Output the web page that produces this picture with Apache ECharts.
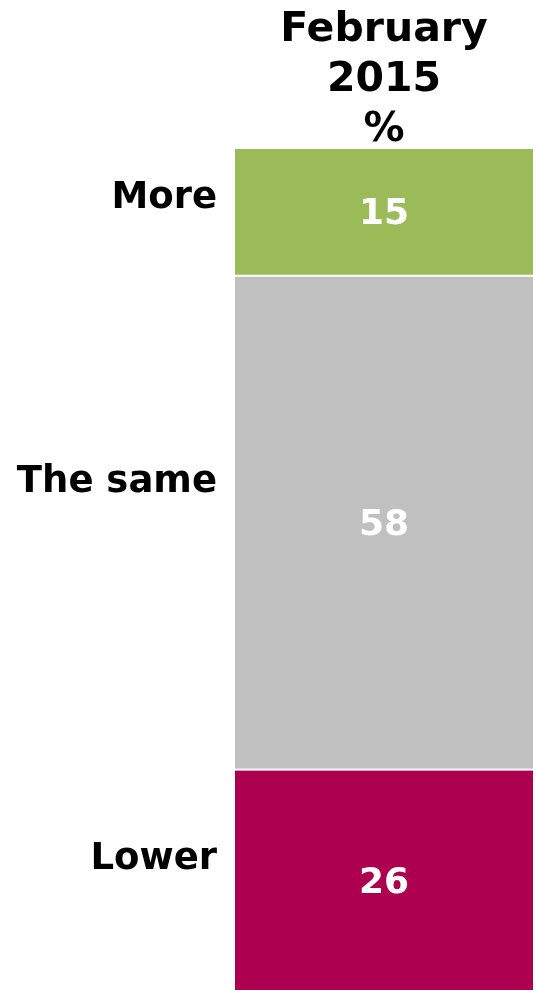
<!DOCTYPE html>
<html>
<head>
<meta charset="utf-8">
<script src="https://cdn.jsdelivr.net/npm/echarts@6/dist/echarts.min.js"></script>
<style>
html,body{margin:0;padding:0;background:#fff;}
#chart{width:536px;height:991px;}
</style>
</head>
<body>
<div id="chart"></div>
<script>
// Data
const categories = ['More', 'The same', 'Lower'];
const values = [15, 58, 26];
const periodLabel = ['February', '2015', '%'];

// Styles (not data)
const colors = { 'More': '#9BBB59', 'The same': '#C0C0C0', 'Lower': '#AD0050' };
const nameOffsets = { 'More': -13, 'The same': -40, 'Lower': -21 };

const total = values.reduce((a, b) => a + b, 0);
const FONT = '"DejaVu Sans", Verdana, sans-serif';

const series = [];
// stack from bottom to top: reverse order
for (let i = categories.length - 1; i >= 0; i--) {
  const name = categories[i];
  series.push({
    name: name,
    type: 'bar',
    stack: 'main',
    xAxisIndex: 0,
    yAxisIndex: 0,
    barWidth: '100%',
    data: [values[i]],
    itemStyle: { color: colors[name], borderColor: '#ffffff', borderWidth: 1 },
    label: {
      show: true,
      position: 'inside',
      offset: [0, 3],
      color: '#ffffff',
      fontFamily: FONT,
      fontWeight: 'bold',
      fontSize: 36,
      formatter: '{c}'
    },
    emphasis: { disabled: true },
    animation: false
  });
  series.push({
    name: name + ' label',
    type: 'bar',
    stack: 'names',
    xAxisIndex: 1,
    yAxisIndex: 1,
    barWidth: '100%',
    data: [values[i]],
    itemStyle: { color: 'rgba(0,0,0,0)' },
    label: {
      show: true,
      position: 'insideRight',
      distance: 0,
      offset: [0, nameOffsets[name]],
      color: '#000000',
      fontFamily: FONT,
      fontWeight: 'bold',
      fontSize: 37,
      formatter: name
    },
    emphasis: { disabled: true },
    animation: false
  });
}

const chart = echarts.init(document.getElementById('chart'), null, { renderer: 'canvas' });
chart.setOption({
  backgroundColor: '#ffffff',
  animation: false,
  grid: [
    { left: 234, right: 2, top: 148, bottom: 0 },
    { left: 0, width: 217, top: 148, bottom: 0 }
  ],
  xAxis: [
    {
      type: 'category',
      gridIndex: 0,
      position: 'top',
      data: [periodLabel.join('\n')],
      axisLine: { show: false },
      axisTick: { show: false },
      axisLabel: {
        show: true,
        margin: -7,
        color: '#000000',
        fontFamily: FONT,
        fontWeight: 'bold',
        fontSize: 41,
        lineHeight: 50,
        align: 'center'
      }
    },
    {
      type: 'category',
      gridIndex: 1,
      data: [''],
      show: false
    }
  ],
  yAxis: [
    { type: 'value', gridIndex: 0, min: 0, max: total, show: false },
    { type: 'value', gridIndex: 1, min: 0, max: total, show: false }
  ],
  series: series
});
</script>
</body>
</html>
